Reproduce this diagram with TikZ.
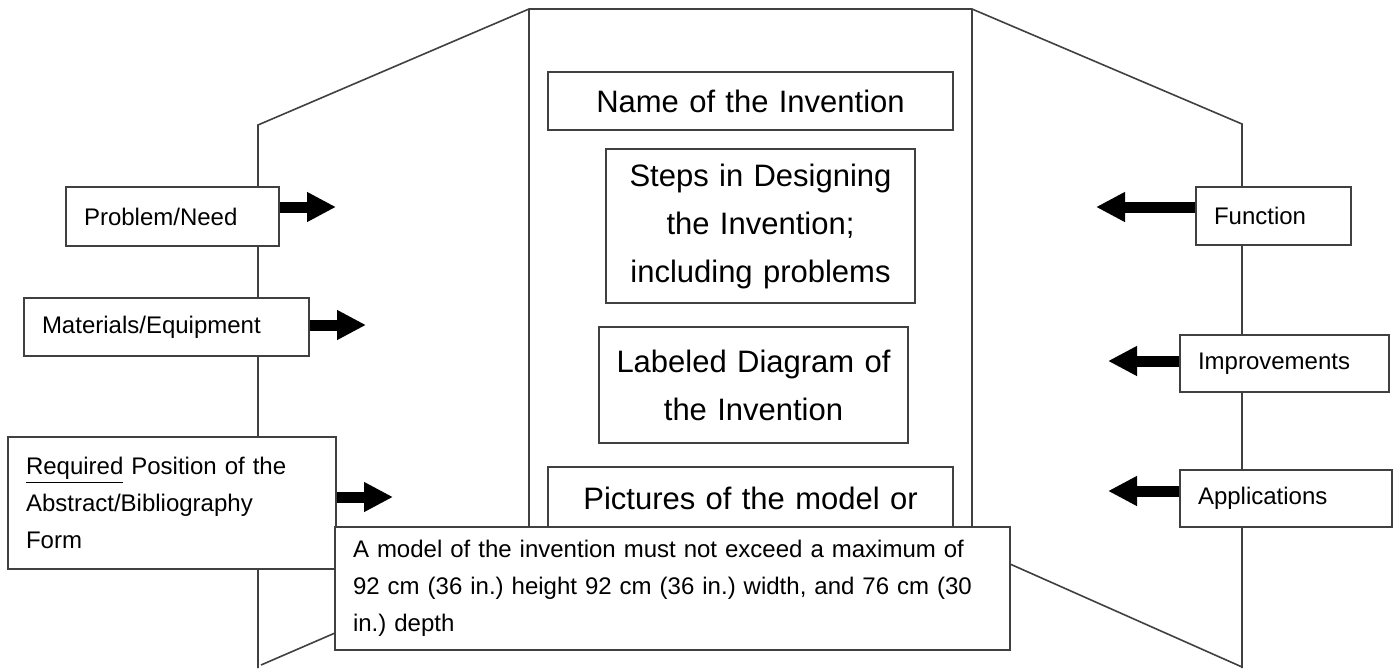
\documentclass[tikz,border=0pt]{standalone}
\usepackage{fontspec}
\setmainfont{Liberation Sans}
\frenchspacing
\usetikzlibrary{arrows.meta}
\tikzset{
	boardline/.style = {
		draw=black!75,
		line width=0.8pt
	},
	infobox/.style = {
		rectangle,
		draw=black!75,
		line width=0.9pt,
		fill=white,
		inner xsep=9pt,
		inner ysep=0pt
	},
	node_side/.style = {
		infobox,
		align=left,
		font=\fontsize{12}{18.5}\selectfont
	},
	node_title/.style = {
		infobox,
		inner xsep=2pt,
		align=center,
		font=\fontsize{15.5}{24}\selectfont
	},
	node_fat/.style = {
		line width=5.5pt,
		-{Triangle[length=14.5pt,width=14pt]}
	},
}

\begin{document}
\begin{tikzpicture}[x=0.5pt, y=-0.5pt]
\useasboundingbox (0,0) rectangle (1398,670);
% the three panels of the board
\draw [boardline] (258,668) -- (258,125) -- (529,9) -- (972,9) -- (1242,124) -- (1242,668);
\draw [boardline] (529,9) -- (529,527);
\draw [boardline] (972,9) -- (972,527);
\draw [boardline] (261,665) -- (335,633);
\draw [boardline] (1010,564) -- (1242,667);
% left panel
\node [node_side, text width=88.5pt, minimum height=29.5pt] (problem) at (172.5,216.5) {Problem/Need};
\node [node_side, text width=124.5pt, minimum height=29pt] (materials) at (166.5,327) {Materials/Equipment};
\node [node_side, text width=146pt, minimum height=66pt] (required) at (172,503) {\underline{Required} Position of the\\Abstract/Bibliography\\Form};
% right panel
\node [node_side, text width=59.5pt, minimum height=29pt] (function) at (1273.5,216) {Function};
\node [node_side, text width=86.5pt, minimum height=28.5pt] (improve) at (1284.5,363.5) {Improvements};
\node [node_side, text width=88pt, minimum height=28.5pt] (apply) at (1286,498.5) {Applications};
% centre panel
\node [node_title, text width=198.5pt, minimum height=29pt] (name) at (750.5,101) {Name of the Invention};
\node [node_title, text width=150.5pt, minimum height=77pt] (steps) at (760.5,226) {Steps in Designing\\the Invention;\\including problems};
\node [node_title, text width=150.5pt, minimum height=58pt] (diagram) at (753.5,385) {Labeled Diagram of\\the Invention};
\node [node_title, text width=198.5pt, minimum height=32pt, anchor=north] (pictures) at (750.5,466) {Pictures of the model or};
% arrows
\coordinate (problem_tip) at (336,207);
\coordinate (materials_tip) at (366,325);
\coordinate (required_tip) at (393,497);
\coordinate (function_tip) at (1096,207);
\coordinate (improve_tip) at (1108,361);
\coordinate (apply_tip) at (1108,491);
\draw [node_fat] (problem.east |- problem_tip) -- (problem_tip);
\draw [node_fat] (materials.east |- materials_tip) -- (materials_tip);
\draw [node_fat] (required.east |- required_tip) -- (required_tip);
\draw [node_fat] (function.west |- function_tip) -- (function_tip);
\draw [node_fat] (improve.west |- improve_tip) -- (improve_tip);
\draw [node_fat] (apply.west |- apply_tip) -- (apply_tip);
% size note
\node [node_side, text width=319.5pt, minimum height=61.5pt] (note) at (672.5,588.5) {A model of the invention must not exceed a maximum of\\92 cm (36 in.) height 92 cm (36 in.) width, and 76 cm (30\\in.) depth};
\end{tikzpicture}
\end{document}
